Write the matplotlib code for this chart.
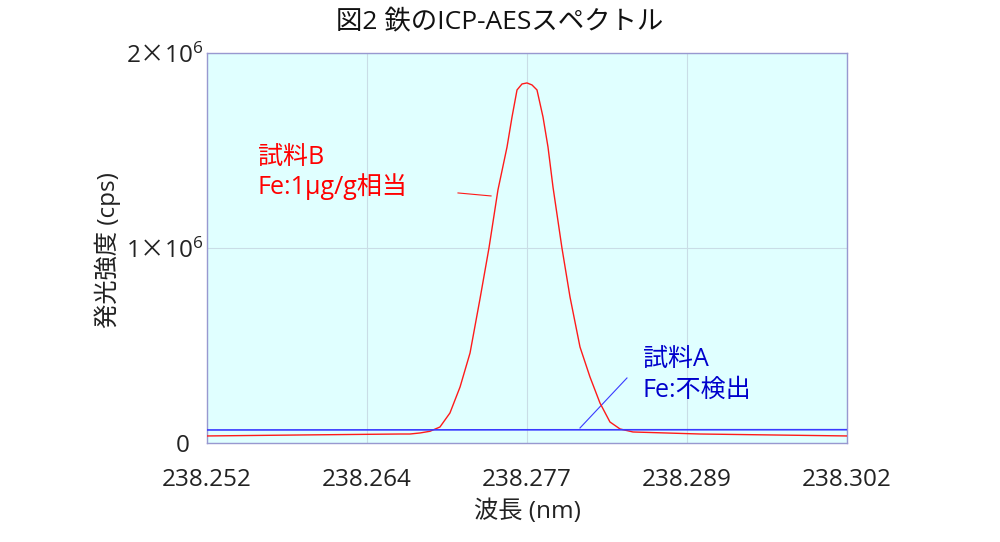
import matplotlib
matplotlib.use("Agg")
import matplotlib.pyplot as plt
from matplotlib.transforms import ScaledTranslation

plt.rcParams["font.family"] = ["Open Sans", "Noto Sans CJK JP", "DejaVu Sans"]
plt.rcParams["mathtext.fontset"] = "custom"
plt.rcParams["mathtext.rm"] = "Open Sans"
plt.rcParams["mathtext.it"] = "Open Sans:italic"
plt.rcParams["mathtext.sf"] = "Noto Sans CJK JP"

# ── Data ──────────────────────────────────────────────────────────────────
wl_b = [238.25200, 238.25927, 238.26708, 238.26786, 238.26864, 238.26942,
        238.27020, 238.27098, 238.27177, 238.27255, 238.27333, 238.27403,
        238.27473, 238.27544, 238.27583, 238.27622, 238.27661, 238.27700,
        238.27739, 238.27778, 238.27825, 238.27864, 238.27903, 238.27973,
        238.28036, 238.28114, 238.28192, 238.28270, 238.28348, 238.28427,
        238.28528, 238.29052, 238.30200]
cps_b = [36000, 41000, 46000, 46000, 51300, 60000,
         82000, 153800, 287200, 461500, 740000, 1000000,
         1297400, 1517900, 1671800, 1810300, 1841000, 1846200,
         1836000, 1810300, 1671800, 1517900, 1312800, 1000000,
         748700, 492300, 338500, 205100, 107700, 71800,
         56400, 46000, 36000]

wl_a = [238.252, 238.277, 238.302]
cps_a = [66700, 67500, 68000]

xticks = [238.252, 238.2645, 238.277, 238.2895, 238.302]
xtick_labels = ["238.252", "238.264", "238.277", "238.289", "238.302"]
yticks = [0, 1e6, 2e6]
ytick_labels = ["0", r"$1\mathsf{\times}10^{6}$", r"$2\mathsf{\times}10^{6}$"]

RED = "#ff1a1a"
BLUE = "#3a3aff"

# ── Figure ───────────────────────────────────────────────────────────────
fig = plt.figure(figsize=(10, 5.42), dpi=100)
ax = fig.add_axes([0.207, 0.1827, 0.640, 0.7196])
ax.set_facecolor("#e0ffff")

ax.plot(wl_b, cps_b, color=RED, lw=1.0, zorder=3)
ax.plot(wl_a, cps_a, color=BLUE, lw=1.2, zorder=4)

ax.set_xlim(xticks[0], xticks[-1])
ax.set_ylim(0, 2e6)
ax.set_xticks(xticks)
ax.set_xticklabels(xtick_labels)
ax.set_yticks(yticks)
ax.set_yticklabels(ytick_labels)
ax.tick_params(axis="x", length=0, pad=18, labelsize=17.5, colors="#222222")
ax.tick_params(axis="y", length=0, pad=3, labelsize=17.5, colors="#222222")
ax.grid(True, color="#c9dde6", lw=0.8, zorder=1)

# the "0" sits a little further left than the 10^6 labels
zero_lbl = ax.get_yticklabels()[0]
zero_lbl.set_transform(zero_lbl.get_transform()
                       + ScaledTranslation(-0.13, 0, fig.dpi_scale_trans))

for s in ax.spines.values():
    s.set_color("#9898d0")
    s.set_linewidth(1.0)

# annotations
ax.text(238.25598, 1.4615e6, "試料B", color="red", fontsize=18,
        ha="left", va="center")
ax.text(238.25598, 1.313e6, "Fe:1μg/g相当", color="red", fontsize=18,
        ha="left", va="center")
ax.plot([238.27161, 238.27419], [1.2821e6, 1.2667e6], color=RED, lw=0.8)

ax.text(238.28606, 4.256e5, "試料A", color="#0000cc", fontsize=18,
        ha="left", va="center")
ax.text(238.28606, 2.718e5, "Fe:不検出", color="#0000cc", fontsize=18,
        ha="left", va="center")
ax.plot([238.28114, 238.28481], [7.69e4, 3.333e5], color=BLUE, lw=0.8)

ax.set_xlabel("波長 (nm)", fontsize=17.5, color="#222222")
ax.xaxis.set_label_coords(0.5, -0.177)
ax.xaxis.label.set_va("center")
ax.set_ylabel("発光強度 (cps)", fontsize=17.5, color="#222222")
ax.yaxis.set_label_coords(-0.155, 0.495)
ax.yaxis.label.set_va("center")

fig.text(0.5, 1 - 22 / 542, "図2 鉄のICP-AESスペクトル", fontsize=19,
         ha="center", va="center", color="#111111")

fig.savefig("out.png", dpi=100)
